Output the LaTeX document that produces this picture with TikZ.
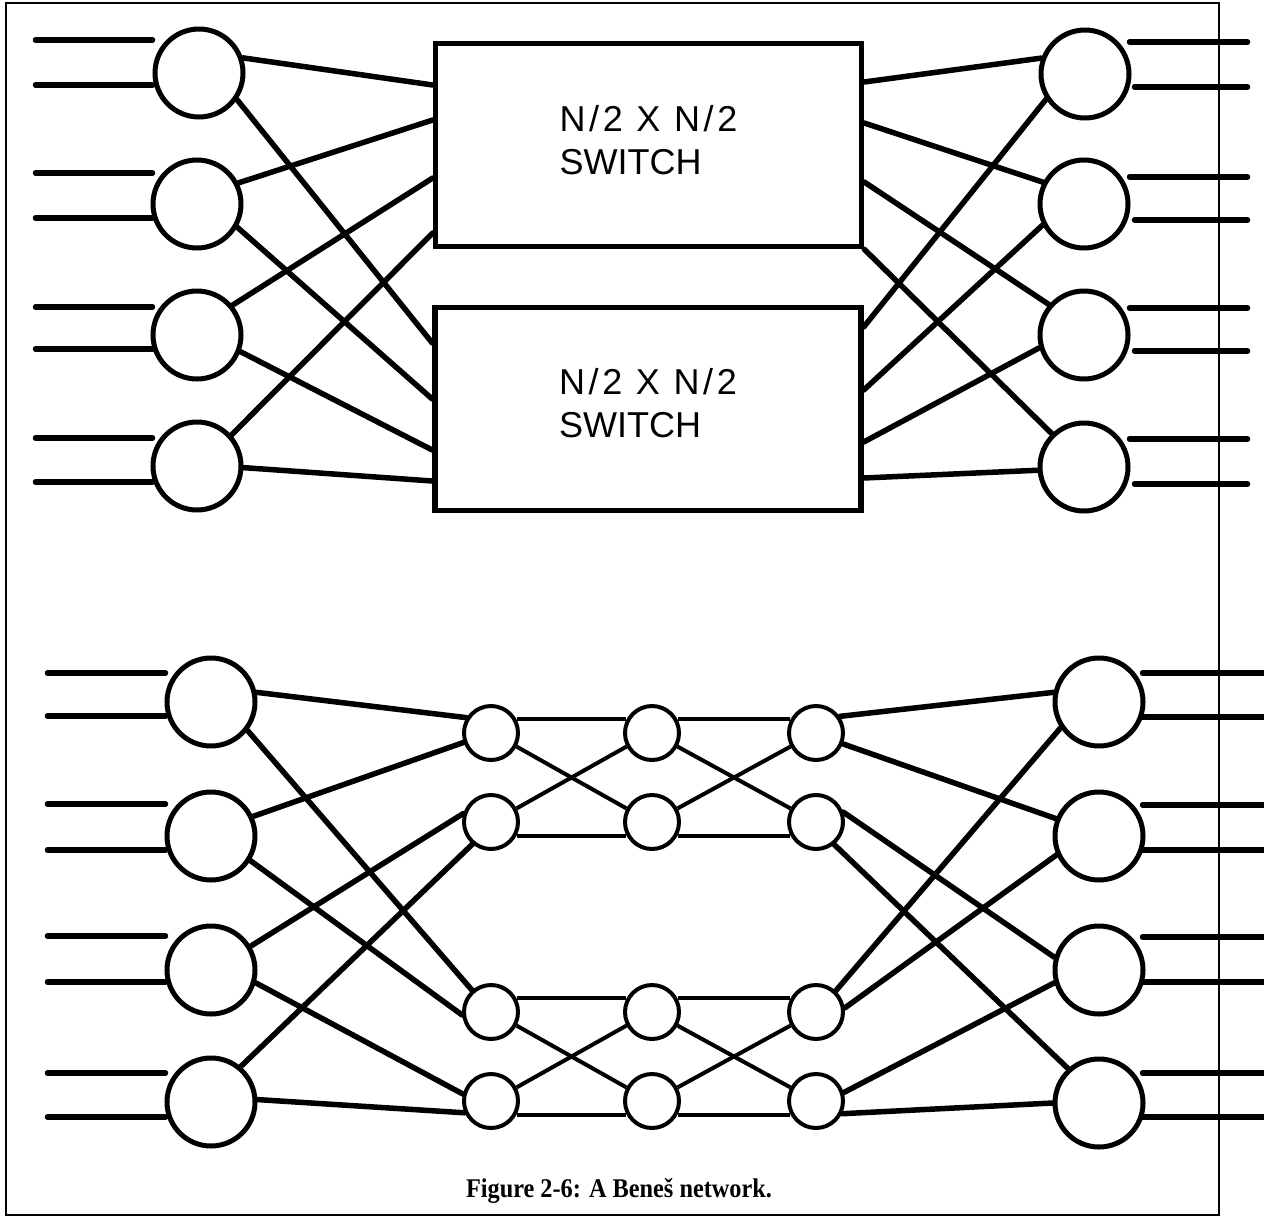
\documentclass[tikz,border=0pt]{standalone}
\usepackage{fontspec}
\usepackage{graphicx}
\newfontfamily\plotfont{Liberation Sans}
\newfontfamily\capfont{Liberation Serif}
\begin{document}
\begin{tikzpicture}[x=1pt,y=-1pt,
  big/.style={circle,draw,line width=5pt,minimum size=88pt,inner sep=0pt},
  small/.style={circle,draw,line width=4pt,minimum size=54pt,inner sep=0pt},
  swbox/.style={draw,line width=5.5pt,inner sep=0pt,align=left,
    minimum width=426pt,minimum height=203pt,
    font=\plotfont\fontsize{36}{43}\selectfont},
  wire/.style={line width=5.5pt,line cap=round},
  thinwire/.style={line width=4pt},
  framestyle/.style={line width=1.4pt}]
\useasboundingbox (0,0) rectangle (1264,1218);
\fill[white] (0,0) rectangle (1264,1218);
\draw[framestyle] (6,3) rectangle (1219,1215);

% ---------- top section ----------
\node[big] (TL1) at (199,73) {};
\node[big] (TL2) at (197,204) {};
\node[big] (TL3) at (197,335) {};
\node[big] (TL4) at (197,466) {};
\node[big] (TR1) at (1085,74) {};
\node[big] (TR2) at (1084,204) {};
\node[big] (TR3) at (1084,335) {};
\node[big] (TR4) at (1084,467) {};

\node[swbox] (box1) at (648.5,145) {{\addfontfeatures{LetterSpace=10}N/2 X N/2}\\SWITCH\rule[-11pt]{0pt}{0pt}};
\node[swbox] (box2) at (648,409) {{\addfontfeatures{LetterSpace=10}N/2 X N/2}\\SWITCH\rule[-12pt]{0pt}{0pt}};

\foreach \n/\y in {1/40,2/85,3/173,4/218,5/307,6/349,7/438,8/482}{
  \coordinate (tla\n) at (35.5,\y);
  \coordinate (tlb\n) at (152.5,\y);
  \draw[wire] (tla\n) -- (tlb\n);
}
\foreach \n/\y/\s in {1/42/1129.5,2/87/1134.5,3/177/1129.5,4/220/1134.5,5/308/1129.5,6/351/1134.5,7/439/1129.5,8/484/1134.5}{
  \coordinate (tra\n) at (\s,\y);
  \coordinate (trb\n) at (1247.5,\y);
  \draw[wire] (tra\n) -- (trb\n);
}

\draw[wire] (TL1.19) -- (box1.west |- 0,85);
\draw[wire] (TL1.-35) -- (box2.west |- 0,343);
\draw[wire] (TL2.27) -- (box1.west |- 0,120);
\draw[wire] (TL2.-30) -- (box2.west |- 0,399);
\draw[wire] (TL3.40) -- (box1.west |- 0,178);
\draw[wire] (TL3.-21) -- (box2.west |- 0,450);
\draw[wire] (TL4.42) -- (box1.west |- 0,233);
\draw[wire] (TL4.-2) -- (box2.west |- 0,481);

\draw[wire] (TR1.160) -- (box1.east |- 0,82);
\draw[wire] (TR2.152) -- (box1.east |- 0,123);
\draw[wire] (TR3.139) -- (box1.east |- 0,182);
\draw[wire] (TR4.134) -- (box1.south east);
\draw[wire] (TR1.213) -- (box2.east |- 0,327);
\draw[wire] (TR2.207) -- (box2.east |- 0,390);
\draw[wire] (TR3.196) -- (box2.east |- 0,442);
\draw[wire] (TR4.184) -- (box2.east |- 0,478);

% ---------- bottom section ----------
\node[big] (BL1) at (211,702) {};
\node[big] (BL2) at (211,836) {};
\node[big] (BL3) at (211,970) {};
\node[big] (BL4) at (211,1102) {};
\node[big] (BR1) at (1099,702) {};
\node[big] (BR2) at (1099,836) {};
\node[big] (BR3) at (1099,970) {};
\node[big] (BR4) at (1099,1103) {};

\foreach \r/\y in {1/733,2/822,3/1012,4/1101}{
  \node[small] (S\r1) at (491,\y) {};
  \node[small] (S\r2) at (652,\y) {};
  \node[small] (S\r3) at (816,\y) {};
}

\foreach \n/\y in {1/673,2/716,3/804,4/850,5/936,6/982,7/1073,8/1117}{
  \coordinate (bla\n) at (47.5,\y);
  \coordinate (blb\n) at (165.5,\y);
  \draw[wire] (bla\n) -- (blb\n);
}
\foreach \n/\y in {1/673,2/717,3/805,4/850,5/937,6/982,7/1073,8/1117}{
  \coordinate (bra\n) at (1142.5,\y);
  \coordinate (brb\n) at (1266,\y);
  \draw[wire] (bra\n) -- (brb\n);
}

\draw[wire] (BL1.12) -- (S11.148);
\draw[wire] (BL1.-38) -- (S31.131);
\draw[wire] (BL2.25) -- (S11.199);
\draw[wire] (BL2.-32) -- (S31.186);
\draw[wire] (BL3.31) -- (S21.163);
\draw[wire] (BL3.-16) -- (S41.166);
\draw[wire] (BL4.50) -- (S21.230);
\draw[wire] (BL4.3) -- (S41.204);

\draw[wire] (S13.35) -- (BR1.168);
\draw[wire] (S13.-22) -- (BR2.158);
\draw[wire] (S23.20) -- (BR3.164);
\draw[wire] (S23.-51) -- (BR4.132);
\draw[wire] (S33.47) -- (BR1.214);
\draw[wire] (S33.8) -- (BR2.204);
\draw[wire] (S43.17) -- (BR3.196);
\draw[wire] (S43.-26) -- (BR4.180);

\foreach \a/\b in {1/2,3/4}{
  \foreach \c/\d in {1/2,2/3}{
    \draw[thinwire] (S\a\c.28) -- (S\a\d.152);
    \draw[thinwire] (S\b\c.-28) -- (S\b\d.208);
    \draw[thinwire] (S\a\c.-28) -- (S\b\d.152);
    \draw[thinwire] (S\b\c.28) -- (S\a\d.208);
  }
}

\node[font=\capfont\bfseries\fontsize{27}{32}\selectfont,anchor=base] (caption) at (619,1197) {\scalebox{0.9}[1]{Figure 2-6: A Beneš network.}};
\end{tikzpicture}
\end{document}
